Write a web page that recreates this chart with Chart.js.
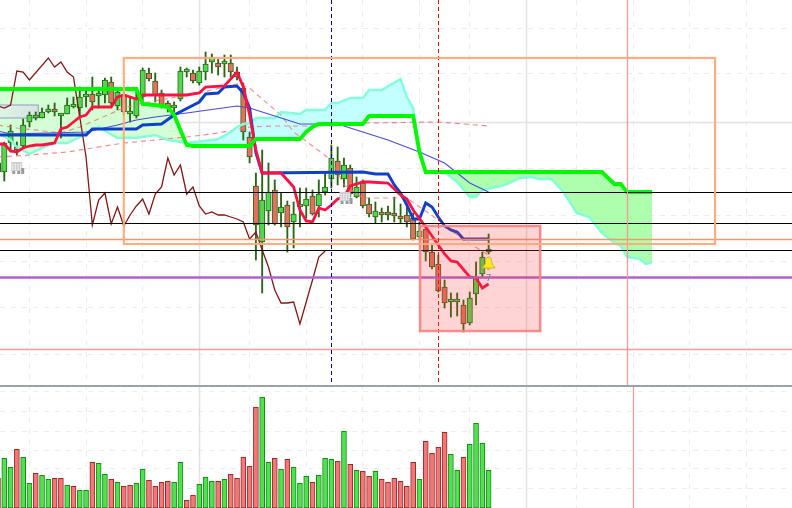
<!DOCTYPE html>
<html>
<head>
<meta charset="utf-8">
<title>Ichimoku chart</title>
<script src="https://cdn.jsdelivr.net/npm/chart.js@4"></script>
<style>
  html, body { margin: 0; padding: 0; background: #fff; overflow: hidden; }
  canvas { position: absolute; left: 0; display: block; }
  #price { top: 0; }
  #volume { top: 385px; }
</style>
</head>
<body>
<canvas id="price" width="792" height="385"></canvas>
<canvas id="volume" width="792" height="123"></canvas>
<script>
// candles, one entry per bar
const opens = [222,213,242,237,239,263,267,267,273,275,
  269,271,278,277,288,291,289,290,303,279,
  290,271,269,288,312,304,292,282,277,286,
  313,312,302,313,323,322,321,322,313,297,
  248,199,143,174,195,172,180,163,178,179,
  189,179,193,206,224,206,217,188,202,181,
  168,173,173,172,169,170,167,148,156,133,
  121,98,83,83,80,62,91,111,133];
const closes = [213,242,254,235,260,270,268,273,276,273,
  271,280,278.5,288,288.5,283,289.5,305,282,293,
  273,273,287,315,306,290,279,277,280,314,
  313.5,304,314,321,328,318,323,313,308,253,
  228,160,185,193,161,178,158,171,180,186,
  171,191,198,227,210,220,191,198,179,171,
  174,170,170,169,166,163,146,154,133,118,
  94,82,83.5,83.5,61,87,107,128,134];
const highs = [230,243,260,243,266,273,273,277,280,282,
  271,287,288,298,295,308,298,307,308,295,
  293,287,295,317,317,312,295,284,283,318,
  317,315,318,333,331,326,330,330,318,302,
  253,212,235,222,205,192,184,183,197,197,
  195,205,212,240,238,227,220,208,205,187,
  183,177,179,188,181,179,172,163,160,140,
  130,105,92,92,85,93,123,133,151];
const lows = [205,204,233,230,238,258,265,267,272,269,
  247,271,277,268,278,275,277,282,280,275,
  270,263,267,282,304,283,277,273,270,284,
  308,302,300,305,312,310,308,308,305,245,
  222,125,92,160,160,158,133,137,158,167,
  170,168,190,197,200,198,188,187,177,168,
  162,163,165,163,162,158,145,145,124,116,
  93,77,68,69,53,60,80,108,131];

// volume pane, 1 = green bar, 0 = red bar
const volumes = [29.7,49.7,40.7,58.7,50.7,24.7,34.7,32.7,28.7,29.7,
  29.7,22.7,21.7,17.7,17.7,45.7,44.7,33.7,28.7,25.7,
  21.7,22.7,24.7,38.7,27.7,21.7,25.7,26.7,25.7,45.7,
  7.7,12.7,23.7,30.7,26.7,26.7,28.7,33.7,29.7,50.7,
  41.7,100.7,110.7,45.7,49.7,38.7,48.7,40.7,24.7,31.7,
  25.7,32.7,49.7,48.7,46.7,76.7,43.7,37.7,36.7,31.7,
  36.7,28.7,25.7,29.7,26.7,21.7,45.7,28.7,66.7,54.7,
  60.7,75.7,53.7,37.7,50.7,63.7,84.7,64.7,37.7];
const volumeUp = [0,1,1,0,1,1,0,1,1,0,
  0,1,0,1,1,0,1,1,0,1,
  0,0,1,1,0,0,0,0,1,1,
  0,0,1,1,1,0,1,0,0,0,
  0,0,1,1,0,1,0,1,1,1,
  0,1,1,1,0,1,0,1,0,0,
  1,0,0,0,0,0,0,1,0,0,
  0,0,1,1,0,1,1,1,1];

// indicator lines, bar number + value
const spanBBars = [0,22,23,25,27,28,30,31,40,41,48,49,50,51,58,59,66,67,68,96,98,99,100,104];
const spanBValues = [296,296,281,280,278,270,240,239,239,246,246,253,258,261,261,269,269,233,213,213,201,201,193,193];
const spanABars = [0,2,3,5,7,9,11,13,15,16,19,22,25,27,30,34,35,37,38,39,40,41,44,45,48,49,52,53,54,56,58,59,61,64,65,66,67,68,71,73,75,76,77,80,81,83,85,86,88,90,92,94,96,98,99,100,102,103,104];
const spanAValues = [252,245,238,231,237,242,242,248,255,258,247,247,250,245,242,245,246,253,258,261,262,267,267,273,271,275,275,282,282,287,287,295,295,306,288,277,233,213,213,203,188,188,195,199,201,207,208,206,206,192,172,168,152,142,139,128,126,121,123];
const tenkanBars = [0,1,2,3,4,5,6,7,8,9,10,11,12,13,14,15,18,19,20,21,22,23,30,32,33,36,38,39,40,41,42,44,45,46,47,48,49,50,51,52,53,54,55,56,58,59,62,64,65,66,68,70,71,72,73,75,76,77,78];
const tenkanValues = [241,241,234,233,237,239,240,240,241,242,256,258,263,268,270,278,278,288,290,288,286,290,290,292,298,299,313,298,270,235,212,212,212,205,198,175,164,163,177,175,180,186,188,199,203,203,202,190,186,175,158,140,131,124,123,108,107,97,101];
const kijunBars = [0,14,15,22,23,26,28,32,33,35,36,38,39,40,41,42,58,60,62,63,64,65,66,67,68,69,70,71,72,73,74,78];
const kijunValues = [250,250,256,256,260,261,270,283,291,292,298,299,292,277,232,212,213,211,211,200,192,180,166,166,182,178,168,159,155,153,146,146];
const maSlowBars = [0,2,14,19,22,25,30,38,40,42,48,54,57,62,67,71,75,78];
const maSlowValues = [254,251,253,260,265,268,272,279,277,273,261,261,255,245,233,222,202,193];
const chikouBars = [0,1,2,3,4,5,8,9,10,11,12,13,14,15,16,17,18,19,20,21,22,23,24,25,26,27,28,29,30,31,32,33,34,35,36,37,38,39,40,41,42,43,44,45,46,47,48,49,50,51,52];
const chikouValues = [279,277,280,314,313,305,327,318,323,313,308,268,228,160,185,192,161,178,159,170,179,186,171,191,198,227,210,220,191,198,179,171,173,170,170,168,166,163,146,153,135,118,95,82,82,83,61,83,105,128,134];
const dashFastBars = [0,3,10,13,20,23,32,38,40,42,45,47,50,53,55,58,65,70,74,78];
const dashFastValues = [260,257,252,258,277,282,292,301,297,286,270,253,239,225,200,187,187,165,145,130];
const dashSlowBars = [0,5,11,20,30,35,40,44,53,58,70,78];
const dashSlowValues = [228,230,233,242,248,252,258,259,259,262,263,259];

// levels and drawn objects on the price pane
const blackLevels = [193,162,135];
const orangeLevel = 146;
const purpleLevel = 108;
const pinkLevel = 36.5;
const blueMarkerBar = 53;
const redMarkerBar = 70;
const pinkMarkerBar = 100;
const volumePinkMarkerBar = 101;
const solidGridBars = [32,84];
const solidGridPrice = 263;
const orangeBox = [20,114,327,141];
const redBox = [67.1,86.2,159,54];
const lilacBox = [-2,6.4,280,267];

const gridBars = [5,14,23,32,40,49,58,67,75,84,92,101,110,119];
const gridPrices = [357,311,217,170,124,78,31];
const gridVolumes = [116,96,76,58,39,19];
const xMin = 0.318, xMax = 126.23;

function toXY(bars, values) {
  return bars.map((b, i) => ({ x: b, y: values[i] }));
}
function xAxis() {
  return {
    type: 'linear', min: xMin, max: xMax, offset: false,
    ticks: { display: false, autoSkip: false },
    grid: { color: '#ececec', drawTicks: false, offset: false },
    border: { display: false, dash: [5, 6] },
    afterBuildTicks: axis => { axis.ticks = gridBars.map(v => ({ value: v })); }
  };
}
function yAxis(min, max, values) {
  return {
    type: 'linear', min: min, max: max,
    ticks: { display: false, autoSkip: false },
    grid: { color: '#ececec', drawTicks: false },
    border: { display: false, dash: [5, 6] },
    afterBuildTicks: axis => { axis.ticks = values.map(v => ({ value: v })); }
  };
}
function line(bars, values, color, width, order, dash) {
  return {
    type: 'line', data: toXY(bars, values), borderColor: color, borderWidth: width,
    borderDash: dash || [], pointRadius: 0, tension: 0, fill: false, order: order
  };
}
const bars = opens.map((_, i) => i);
const upColor = (o, c) => c >= o;
const snap = v => Math.round(v) + 0.5;

function hline(ctx, area, y, color, width) {
  ctx.strokeStyle = color; ctx.lineWidth = width;
  ctx.beginPath(); ctx.moveTo(area.left, snap(y)); ctx.lineTo(area.right, snap(y)); ctx.stroke();
}
function vline(ctx, area, x, color, width, dash) {
  ctx.strokeStyle = color; ctx.lineWidth = width; ctx.setLineDash(dash || []);
  ctx.beginPath(); ctx.moveTo(snap(x), area.top); ctx.lineTo(snap(x), area.bottom); ctx.stroke();
  ctx.setLineDash([]);
}
function box(ctx, sx, sy, b) {
  const x = sx.getPixelForValue(b[0]), y = sy.getPixelForValue(b[2]);
  return [x, y, sx.getPixelForValue(b[1]) - x, sy.getPixelForValue(b[3]) - y];
}

// little grey calendar thing the terminal puts on the chart
function drawCalendarIcon(ctx, x, y) {
  ctx.fillStyle = '#cfcfcf';
  ctx.fillRect(x, y, 11, 9);
  ctx.fillStyle = '#ffffff';
  for (let r = 0; r < 3; r++) for (let c = 0; c < 4; c++) ctx.fillRect(x + 1 + c * 2.6, y + 2 + r * 2.3, 1.2, 1.2);
  ctx.fillStyle = '#9a9a9a';
  ctx.fillRect(x + 1, y + 9, 3, 3);
  ctx.fillRect(x + 6, y + 9, 3, 3);
  ctx.fillRect(x + 10, y + 6, 3, 6);
}
function drawBell(ctx, x, y) {
  ctx.beginPath();
  ctx.moveTo(x, y - 7);
  ctx.bezierCurveTo(x + 3, y - 7, x + 3, y - 3, x + 3.5, y);
  ctx.lineTo(x + 6.5, y + 4);
  ctx.lineTo(x - 6.5, y + 4);
  ctx.lineTo(x - 3.5, y);
  ctx.bezierCurveTo(x - 3, y - 3, x - 3, y - 7, x, y - 7);
  ctx.closePath();
  ctx.fillStyle = '#ffe81a';
  ctx.fill();
  ctx.strokeStyle = '#b8a848';
  ctx.lineWidth = 0.8;
  ctx.stroke();
  ctx.fillStyle = '#d8c020';
  ctx.fillRect(x - 1.5, y + 4, 3, 2);
}

const priceOverlay = {
  id: 'priceOverlay',
  beforeDatasetsDraw(chart) {
    const { ctx, chartArea: area, scales: { x, y } } = chart;
    ctx.save();
    solidGridBars.forEach(b => vline(ctx, area, x.getPixelForValue(b), '#e2e2e6', 1.5));
    hline(ctx, area, y.getPixelForValue(solidGridPrice), '#e2e2e8', 1.5);
    ctx.restore();
  },
  // lilac box goes over the cloud but under the candles
  afterDatasetDraw(chart, args) {
    if (args.index !== 0) return;
    const { ctx, scales: { x, y } } = chart;
    const r = box(ctx, x, y, lilacBox);
    ctx.save();
    const g = ctx.createLinearGradient(r[0], 0, r[0] + r[2], 0);
    g.addColorStop(0, 'rgba(225,248,232,0.7)');
    g.addColorStop(1, 'rgba(212,222,232,0.8)');
    ctx.fillStyle = g;
    ctx.fillRect(r[0], r[1], r[2], r[3]);
    ctx.strokeStyle = '#9c94d0'; ctx.lineWidth = 1;
    ctx.strokeRect(r[0], r[1], r[2], r[3]);
    ctx.restore();
  },
  afterDatasetsDraw(chart) {
    const { ctx, chartArea: area, scales: { x, y } } = chart;
    ctx.save();
    blackLevels.forEach(v => hline(ctx, area, y.getPixelForValue(v), '#000000', 1));
    hline(ctx, area, y.getPixelForValue(orangeLevel), '#ff9464', 1.3);
    hline(ctx, area, y.getPixelForValue(purpleLevel), '#b060d0', 2.4);
    hline(ctx, area, y.getPixelForValue(pinkLevel), '#f59a9a', 1.3);
    vline(ctx, area, x.getPixelForValue(pinkMarkerBar), '#f09a9a', 1.3);
    vline(ctx, area, x.getPixelForValue(blueMarkerBar), '#00009c', 1, [4, 3]);
    vline(ctx, area, x.getPixelForValue(redMarkerBar), '#ff0000', 1, [4, 3]);

    let r = box(ctx, x, y, redBox);
    ctx.fillStyle = 'rgba(255,60,60,0.22)';
    ctx.fillRect(r[0], r[1], r[2], r[3]);
    ctx.strokeStyle = 'rgba(250,130,130,0.9)'; ctx.lineWidth = 2.5;
    ctx.strokeRect(r[0], r[1], r[2], r[3]);

    r = box(ctx, x, y, orangeBox);
    ctx.strokeStyle = 'rgba(255,170,125,0.95)'; ctx.lineWidth = 2.2;
    ctx.strokeRect(r[0], r[1], r[2], r[3]);

    drawCalendarIcon(ctx, x.getPixelForValue(2.1), y.getPixelForValue(223));
    drawCalendarIcon(ctx, x.getPixelForValue(54.3), y.getPixelForValue(193));
    drawBell(ctx, x.getPixelForValue(78), y.getPixelForValue(121));
    ctx.fillStyle = '#807890';
    ctx.font = '9px "DejaVu Sans", sans-serif';
    ctx.textAlign = 'center';
    ctx.fillText('7', x.getPixelForValue(78), y.getPixelForValue(104));
    ctx.restore();
  }
};

const volumeOverlay = {
  id: 'volumeOverlay',
  beforeDatasetsDraw(chart) {
    const { ctx, chartArea: area, scales: { x } } = chart;
    ctx.save();
    solidGridBars.forEach(b => vline(ctx, area, x.getPixelForValue(b), '#e2e2e6', 1.5));
    ctx.restore();
  },
  afterDatasetsDraw(chart) {
    const { ctx, chartArea: area, scales: { x } } = chart;
    ctx.save();
    vline(ctx, area, x.getPixelForValue(volumePinkMarkerBar), '#f09a9a', 1.3);
    ctx.strokeStyle = '#9aa2aa'; ctx.lineWidth = 2;
    ctx.beginPath(); ctx.moveTo(area.left, area.top + 1); ctx.lineTo(area.right, area.top + 1); ctx.stroke();
    ctx.restore();
  }
};

const priceCtx = document.getElementById('price').getContext('2d');
const greenFill = priceCtx.createLinearGradient(0, 0, 792, 0);
greenFill.addColorStop(0, '#d4ffd4');
greenFill.addColorStop(0.3, '#d4ffd4');
greenFill.addColorStop(0.5, '#adffad');
greenFill.addColorStop(1, '#adffad');

new Chart(priceCtx, {
  data: {
    datasets: [
      // cloud fill sits under everything, target is the span A line at index 1
      Object.assign(line(spanBBars, spanBValues, 'rgba(0,0,0,0)', 0, 20), {
        fill: { target: 1, above: greenFill, below: '#c4ffff' }
      }),
      line(spanABars, spanAValues, '#80ffd8', 2.4, 6),
      {
        type: 'bar', data: bars.map(i => ({ x: i, y: [lows[i], highs[i]] })),
        backgroundColor: '#2a6414', barThickness: 1.2, grouped: false, order: 9
      },
      {
        type: 'bar', data: bars.map(i => ({ x: i, y: [opens[i], closes[i]] })),
        backgroundColor: bars.map(i => upColor(opens[i], closes[i]) ? '#50d850' : '#e4705f'),
        borderColor: '#2a6414', borderWidth: 1, borderSkipped: false,
        barThickness: 5.4, minBarLength: 3, grouped: false, order: 8
      },
      line(dashSlowBars, dashSlowValues, 'rgba(240,110,110,0.8)', 1.2, 7, [5, 4]),
      line(dashFastBars, dashFastValues, 'rgba(240,110,110,0.75)', 1.2, 7, [5, 4]),
      line(chikouBars, chikouValues, '#801818', 1.3, 5),
      line(maSlowBars, maSlowValues, '#4a4ae0', 1.1, 4),
      line(kijunBars, kijunValues, '#1040c8', 2.9, 3),
      line(tenkanBars, tenkanValues, '#ff1044', 2.8, 2),
      line(spanBBars, spanBValues, '#00f800', 3.9, 1)
    ]
  },
  options: {
    responsive: false, animation: false, events: [],
    layout: { padding: 0 },
    plugins: { legend: { display: false }, tooltip: { enabled: false } },
    scales: { x: xAxis(), y: yAxis(0, 385, gridPrices) }
  },
  plugins: [priceOverlay]
});

new Chart(document.getElementById('volume').getContext('2d'), {
  type: 'bar',
  data: {
    datasets: [{
      data: bars.map(i => ({ x: i, y: volumes[i] })),
      backgroundColor: volumeUp.map(u => u ? '#52e052' : '#f07878'),
      borderColor: volumeUp.map(u => u ? '#109010' : '#a02828'),
      borderWidth: 1, borderSkipped: false, barThickness: 5
    }]
  },
  options: {
    responsive: false, animation: false, events: [],
    layout: { padding: 0 },
    plugins: { legend: { display: false }, tooltip: { enabled: false } },
    scales: { x: xAxis(), y: yAxis(0, 123, gridVolumes) }
  },
  plugins: [volumeOverlay]
});
</script>
</body>
</html>
